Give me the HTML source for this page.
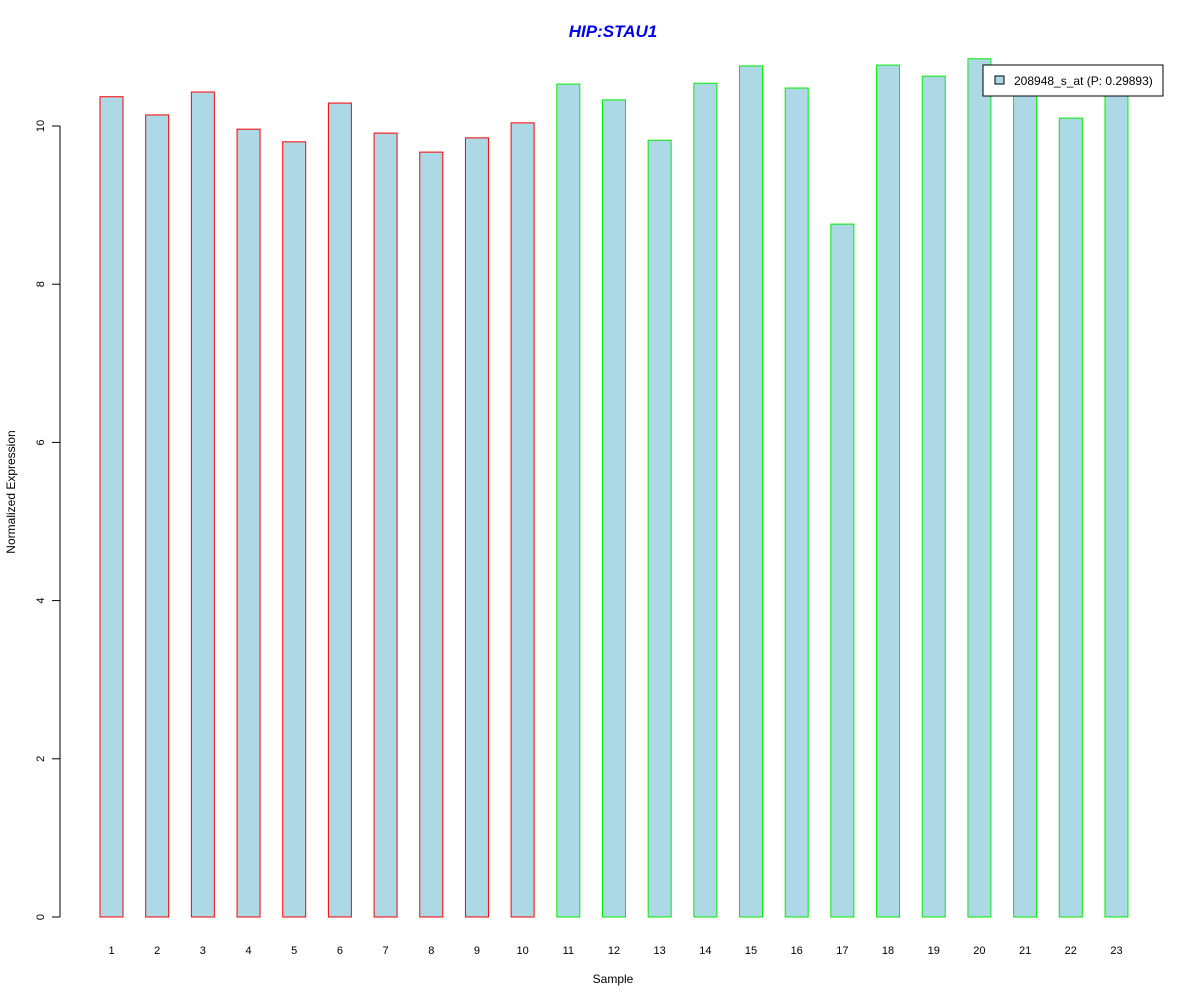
<!DOCTYPE html>
<html><head><meta charset="utf-8"><style>body{margin:0;background:#fff}svg{display:block}</style></head>
<body>
<svg id="chart" width="1200" height="1000" xmlns="http://www.w3.org/2000/svg" font-family="Liberation Sans, sans-serif">
<rect width="1200" height="1000" fill="#fff"/>
<text x="613" y="37" text-anchor="middle" font-size="17" font-weight="bold" font-style="italic" fill="#0000ee">HIP:STAU1</text>
<text x="613" y="983" text-anchor="middle" font-size="12">Sample</text>
<text transform="translate(15,492) rotate(-90)" text-anchor="middle" font-size="12">Normalized Expression</text>
<g id="bars"></g><g id="yaxis"></g><g id="xlabels"></g>
<g>
<rect x="983" y="65" width="180" height="31" fill="#fff" stroke="#000"/>
<rect x="995" y="76" width="9" height="8" fill="#add8e6" stroke="#000"/>
<text x="1014" y="85" font-size="12">208948_s_at (P: 0.29893)</text>
</g>
</svg>
<script>
const categories=["1","2","3","4","5","6","7","8","9","10","11","12","13","14","15","16","17","18","19","20","21","22","23"];
const values=[10.37,10.14,10.43,9.96,9.80,10.29,9.91,9.67,9.85,10.04,10.53,10.33,9.82,10.54,10.76,10.48,8.76,10.77,10.63,10.85,10.45,10.10,10.45];
const groups=["r","r","r","r","r","r","r","r","r","r","g","g","g","g","g","g","g","g","g","g","g","g","g"];
const yTicks=[0,2,4,6,8,10];
const NS="http://www.w3.org/2000/svg";
const y=v=>917-v*79.1;
const x=i=>111.5+i*45.68;
const bw=23;
const bars=document.getElementById('bars');
values.forEach((v,i)=>{
 const r=document.createElementNS(NS,'rect');
 
 
 r.setAttribute('x',x(i)-bw/2);r.setAttribute('y',y(v));
 r.setAttribute('width',bw);r.setAttribute('height',y(0)-y(v));
 r.setAttribute('fill','#add8e6');r.setAttribute('stroke',groups[i]==='r'?'#ff0000':'#00ee00');
 bars.appendChild(r);
 const t=document.createElementNS(NS,'text');
 
 
 t.setAttribute('x',x(i));t.setAttribute('y',954);t.setAttribute('text-anchor','middle');t.setAttribute('font-size','11');
 t.textContent=categories[i];document.getElementById('xlabels').appendChild(t);
});
const ya=document.getElementById('yaxis');
const ax=document.createElementNS(NS,'line');


ax.setAttribute('x1',60);ax.setAttribute('x2',60);ax.setAttribute('y1',y(0));ax.setAttribute('y2',y(10));ax.setAttribute('stroke','#000');
ya.appendChild(ax);
yTicks.forEach(v=>{
 const l=document.createElementNS(NS,'line');
 
 
 l.setAttribute('x1',52);l.setAttribute('x2',60);l.setAttribute('y1',y(v));l.setAttribute('y2',y(v));l.setAttribute('stroke','#000');
 ya.appendChild(l);
 const t=document.createElementNS(NS,'text');
 
 
 t.setAttribute('transform','translate(44,'+y(v)+') rotate(-90)');t.setAttribute('text-anchor','middle');t.setAttribute('font-size','11');
 t.textContent=v;ya.appendChild(t);
});
</script>
</body></html>
